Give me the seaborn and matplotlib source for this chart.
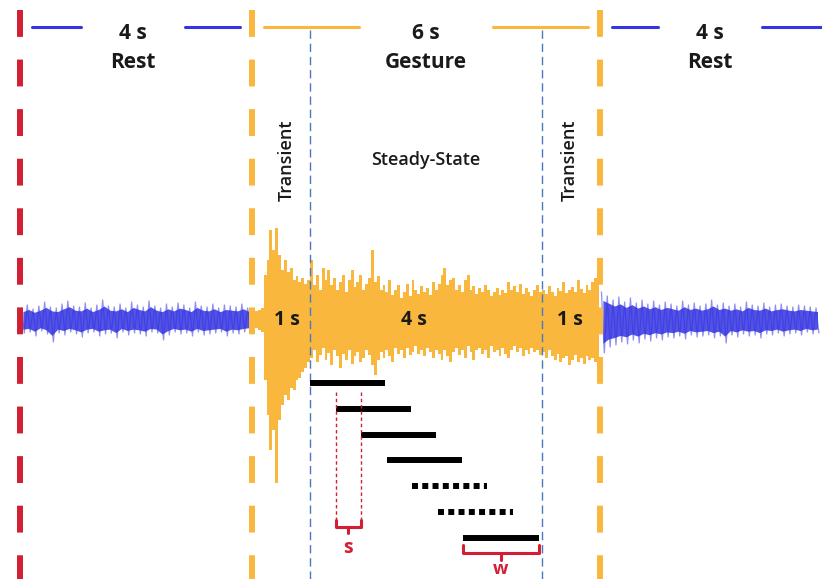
import numpy as np
import pandas as pd
import matplotlib
matplotlib.use("Agg")
import matplotlib.pyplot as plt
import seaborn as sns

# timeline (s)
phase_bounds = [0, 4, 10]
steady_bounds = [5, 9]
phase_labels = ["4 s\nRest", "6 s\nGesture", "4 s\nRest"]
phase_centers = [1.95, 7.0, 11.9]
segment_labels = ["1 s", "4 s", "1 s"]
segment_pos = [4.6, 6.8, 9.48]

# EMG envelope, pixel-like amplitude units, sampled every 0.1 s (rest) / 0.05 s (gesture)
rest1_up = [12, 15, 11, 14, 18, 13, 12, 16, 19, 14, 13, 17, 12, 15, 20, 14, 13, 16, 12, 18,
            15, 13, 19, 14, 12, 16, 13, 17, 15, 12, 18, 14, 13, 16, 12, 15, 14, 13, 16, 12]
rest1_lo = [13, 12, 16, 11, 14, 22, 13, 15, 12, 14, 17, 13, 12, 16, 14, 13, 18, 12, 15, 13,
            14, 16, 12, 13, 20, 15, 12, 14, 13, 16, 12, 15, 14, 13, 12, 16, 13, 14, 12, 11]
rest2_up = [28, 24, 20, 23, 18, 22, 17, 20, 16, 19, 15, 18, 16, 14, 19, 15, 17, 14, 16, 20,
            15, 17, 14, 16, 13, 18, 15, 14, 17, 13, 15, 16, 14, 13, 15, 14, 13, 12]
rest2_lo = [33, 27, 25, 22, 24, 20, 23, 19, 21, 18, 20, 17, 18, 16, 19, 15, 17, 16, 15, 18,
            16, 23, 15, 17, 14, 16, 15, 18, 14, 15, 13, 16, 14, 13, 15, 12, 14, 13]
gest_up = [6, 9, 10, 12, 45, 60, 90, 70, 92, 65, 50, 60, 48, 52, 40, 44, 38, 42, 36, 40,
           60, 35, 45, 30, 52, 40, 50, 35, 42, 30, 38, 45, 28, 40, 50, 33, 38, 45, 30, 36,
           42, 70, 38, 44, 30, 35, 28, 40, 25, 30, 35, 22, 28, 36, 24, 40, 30, 26, 34, 28,
           32, 25, 38, 30, 36, 45, 52, 35, 40, 42, 30, 35, 28, 40, 45, 30, 34, 26, 32, 28,
           35, 30, 24, 28, 32, 25, 30, 27, 38, 30, 34, 28, 36, 26, 32, 28, 24, 30, 35, 28,
           30, 26, 34, 28, 24, 32, 29, 38, 27, 30, 33, 28, 40, 31, 27, 35, 30, 38, 42, 45]
gest_lo = [6, 8, 10, 12, 60, 95, 130, 110, 163, 100, 85, 75, 80, 68, 70, 60, 58, 52, 48, 42,
           38, 30, 42, 35, 28, 40, 33, 45, 30, 36, 48, 34, 40, 30, 44, 36, 32, 42, 38, 30,
           35, 45, 55, 40, 32, 38, 30, 36, 42, 28, 34, 30, 38, 28, 35, 32, 26, 34, 30, 36,
           28, 32, 38, 30, 34, 40, 30, 36, 42, 32, 28, 35, 30, 38, 26, 32, 40, 30, 28, 34,
           30, 38, 26, 32, 30, 36, 28, 34, 38, 30, 26, 32, 28, 36, 30, 34, 28, 32, 30, 35,
           32, 38, 30, 36, 40, 34, 42, 38, 36, 45, 40, 35, 42, 38, 44, 36, 40, 38, 42, 45]

# sliding windows
win_starts = [5.0, 5.44, 5.88, 6.32, 6.76, 7.2, 7.64]
win_len = 1.3
win_dotted = [False, False, False, False, True, True, False]

RED = "#d21f33"
ORANGE = "#f9b73d"
BLUE = "#3434e2"
DBLUE = "#4a78c0"

sns.set_theme(style="white")
plt.rcParams["font.family"] = ["Open Sans", "DejaVu Sans"]

fig = plt.figure(figsize=(8.22, 5.79), dpi=100)
ax = fig.add_axes([0, 0, 1, 1])
ax.set_xlim(-20 / 58, 802 / 58)
ax.set_ylim(-259, 320)
ax.axis("off")

# rest signals: zigzag noise + dense core
for t0, up, lo in [(0.0, rest1_up, rest1_lo), (10.0, rest2_up, rest2_lo)]:
    up = np.array(up, float)
    lo = np.array(lo, float)
    t = t0 + 0.05 + 0.1 * np.arange(len(up))
    tz = np.ravel(np.column_stack([t - 0.025, t + 0.025]))
    yz = np.ravel(np.column_stack([up, -lo]))
    ax.fill_between(t, up * 0.7, -lo * 0.7, color=BLUE, alpha=0.85, lw=0, zorder=2)
    sns.lineplot(x=tz, y=yz, ax=ax, color=BLUE, lw=0.9, alpha=0.55, zorder=2,
                 sort=False, estimator=None)

# gesture signal
tg = 4.025 + 0.05 * np.arange(len(gest_up))
ax.fill_between(tg, gest_up, -np.array(gest_lo), step="mid", color=ORANGE, lw=0, zorder=2)

# phase boundaries
for tb, c in zip(phase_bounds, [RED, ORANGE, ORANGE]):
    ax.plot([tb, tb], [310, -259], color=c, lw=4.3, ls=(0, (4.5, 3.8)),
            dash_capstyle="butt", zorder=3)
for tb in steady_bounds:
    ax.plot([tb, tb], [290, -259], color=DBLUE, lw=1.0, ls=(0, (6, 3.5)), zorder=4)

# top duration markers
ends = phase_bounds[1:] + [802 / 58]
gaps = [0.9, 1.15, 0.9]
cols = [BLUE, ORANGE, BLUE]
for s, e, c, g, col, lab in zip(phase_bounds, ends, phase_centers, gaps, cols, phase_labels):
    ax.plot([s + 0.2, c - g], [293, 293], color=col, lw=2.2, zorder=3)
    ax.plot([c + g, e - 0.2 if e < 13 else e], [293, 293], color=col, lw=2.2, zorder=3)
    ax.text(c, 272, lab, ha="center", va="center", fontsize=15, fontweight="bold",
            color="#1a1a1a", linespacing=1.55)

ax.text(4.6, 160, "Transient", rotation=90, ha="center", va="center", fontsize=13,
        fontweight="semibold", color="#1a1a1a")
ax.text(9.48, 160, "Transient", rotation=90, ha="center", va="center", fontsize=13,
        fontweight="semibold", color="#1a1a1a")
ax.text(7.0, 160, "Steady-State", ha="center", va="center", fontsize=13, fontweight="semibold",
        color="#1a1a1a")
for p, lab in zip(segment_pos, segment_labels):
    ax.text(p, 0, lab, ha="center", va="center", fontsize=14, fontweight="bold",
            color="#1a1a1a", zorder=5)

# windows
for i, (ws, dotted) in enumerate(zip(win_starts, win_dotted)):
    y = -63 - 25.8 * i
    ax.plot([ws, ws + win_len], [y, y], color="black", lw=4.3,
            ls=(0, (1, 0.72)) if dotted else "-", solid_capstyle="butt",
            dash_capstyle="butt", zorder=4)

# step s
for ws in win_starts[1:3]:
    ax.plot([ws, ws], [-72, -202], color=RED, lw=1.0, ls=(0, (2.5, 2)), zorder=4)
a, b = win_starts[1], win_starts[2]
ax.plot([a, a, b, b], [-200, -207, -207, -200], color=RED, lw=2.2, zorder=4)
ax.plot([(a + b) / 2] * 2, [-207, -213], color=RED, lw=2.2, zorder=4)
ax.text((a + b) / 2, -228, "s", ha="center", va="center", fontsize=14, fontweight="bold", color=RED)

# window length w
a, b = win_starts[-1], win_starts[-1] + win_len
ax.plot([a, a, b, b], [-225, -233, -233, -225], color=RED, lw=2.2, zorder=4)
ax.plot([(a + b) / 2] * 2, [-233, -240], color=RED, lw=2.2, zorder=4)
ax.text((a + b) / 2, -249, "w", ha="center", va="center", fontsize=13, fontweight="bold", color=RED)

fig.savefig("out.png", dpi=100)
